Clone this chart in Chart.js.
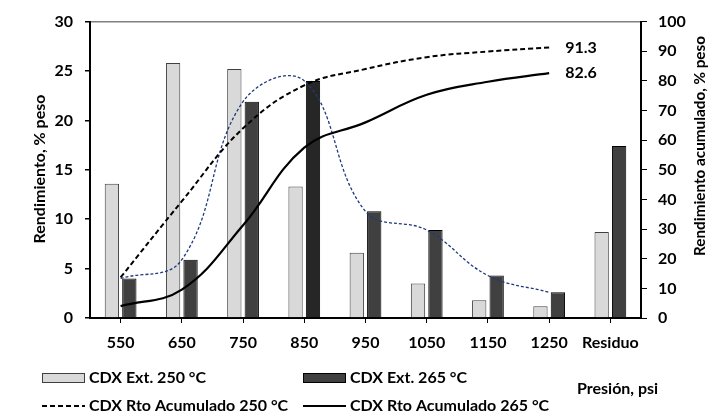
<!DOCTYPE html>
<html>
<head>
<meta charset="utf-8">
<script src="https://cdn.jsdelivr.net/npm/chart.js@4/dist/chart.umd.min.js"></script>
<style>
  html, body { margin:0; padding:0; background:#fff; }
  #wrap { position:relative; width:711px; height:414px; }
</style>
</head>
<body>
<div id="wrap"><canvas id="c" width="711" height="414"></canvas></div>
<script>
const categories = ['550','650','750','850','950','1050','1150','1250','Residuo'];
const ext250 = [13.6, 25.8, 25.2, 13.3, 6.6, 3.5, 1.8, 1.2, 8.7];
const ext265 = [4.0, 5.9, 21.9, 24.0, 10.8, 8.9, 4.3, 2.6, 17.4];
const acum250 = [13.7, 39.4, 64.0, 78.5, 84.0, 88.0, 89.9, 91.3, null];
const acum265 = [4.0, 9.6, 31.3, 57.5, 66.0, 75.3, 79.7, 82.6, null];
const perfil265 = [4.0, 5.9, 21.9, 24.0, 10.8, 8.9, 4.3, 2.6, null];
const leftTicks = [0, 5, 10, 15, 20, 25, 30];
const rightTicks = [0, 10, 20, 30, 40, 50, 60, 70, 80, 90, 100];
const labels = {
  ext250: 'CDX Ext. 250 °C',
  ext265: 'CDX Ext. 265 °C',
  acum250: 'CDX Rto Acumulado 250 °C',
  acum265: 'CDX Rto Acumulado 265 °C',
  yLeft: 'Rendimiento, % peso',
  yRight: 'Rendimiento acumulado, % peso',
  x: 'Presión, psi'
};

const FONT = 'Lato, "Liberation Sans", sans-serif';
const FS = 16;

const darkColors = categories.map((c, i) => i === 3 ? '#262626' : '#404040');

function fittedFont(ctx, text, target) {
  ctx.font = 'bold ' + FS + 'px ' + FONT;
  const w = ctx.measureText(text).width;
  const size = Math.min(FS, FS * target / w);
  return 'bold ' + size.toFixed(2) + 'px ' + FONT;
}

const extrasPlugin = {
  id: 'extras',
  afterDraw(chart) {
    const ctx = chart.ctx;
    const ds = chart.data.datasets;
    ctx.save();
    ctx.font = 'bold ' + FS + 'px ' + FONT;
    ctx.fillStyle = '#000';
    ctx.textBaseline = 'middle';

    // end labels for cumulative lines
    [2, 3].forEach(di => {
      const meta = chart.getDatasetMeta(di);
      const data = ds[di].data;
      let last = data.length - 1;
      while (last >= 0 && data[last] == null) last--;
      const pt = meta.data[last];
      ctx.textAlign = 'left';
      ctx.fillText(data[last].toFixed(1), pt.x + 16, pt.y);
    });

    // legend
    const items = [
      {i: 0, x: 42, y: 378}, {i: 1, x: 303, y: 378},
      {i: 2, x: 42, y: 406}, {i: 3, x: 303, y: 406}
    ];
    items.forEach(it => {
      const d = ds[it.i];
      if (d.type === 'line') {
        ctx.save();
        ctx.strokeStyle = d.borderColor;
        ctx.lineWidth = d.borderWidth;
        ctx.setLineDash(d.borderDash || []);
        ctx.beginPath();
        ctx.moveTo(it.x, it.y);
        ctx.lineTo(it.x + 43, it.y);
        ctx.stroke();
        ctx.restore();
      } else {
        const bg = Array.isArray(d.backgroundColor) ? d.backgroundColor[0] : d.backgroundColor;
        ctx.fillStyle = bg;
        ctx.fillRect(it.x, it.y - 5, 43, 10);
        ctx.strokeStyle = d.borderColor;
        ctx.lineWidth = 1;
        ctx.strokeRect(it.x + 0.5, it.y - 4.5, 42, 9);
      }
      ctx.fillStyle = '#000';
      ctx.textAlign = 'left';
      ctx.fillText(d.label, it.x + 47, it.y);
    });

    // x title
    ctx.fillText(labels.x, 577, 389);

    // y titles
    ctx.textAlign = 'center';
    ctx.save();
    ctx.font = fittedFont(ctx, labels.yLeft, 158);
    ctx.translate(40, 169);
    ctx.rotate(-Math.PI / 2);
    ctx.fillText(labels.yLeft, 0, 0);
    ctx.restore();
    ctx.save();
    ctx.font = fittedFont(ctx, labels.yRight, 220);
    ctx.translate(700, 146);
    ctx.rotate(-Math.PI / 2);
    ctx.fillText(labels.yRight, 0, 0);
    ctx.restore();

    ctx.restore();
  }
};

new Chart(document.getElementById('c'), {
  type: 'bar',
  data: {
    labels: categories,
    datasets: [
      { type: 'bar', label: labels.ext250, data: ext250, yAxisID: 'y',
        backgroundColor: '#d9d9d9', borderColor: '#404040', borderWidth: 1,
        categoryPercentage: 0.57, barPercentage: 0.82, order: 2 },
      { type: 'bar', label: labels.ext265, data: ext265, yAxisID: 'y',
        backgroundColor: darkColors, borderColor: '#000000', borderWidth: 1,
        categoryPercentage: 0.57, barPercentage: 0.82, order: 2 },
      { type: 'line', label: labels.acum250, data: acum250, yAxisID: 'y1',
        borderColor: '#000', borderWidth: 2, borderDash: [5, 3], pointRadius: 0,
        tension: 0.4, fill: false, order: 0 },
      { type: 'line', label: labels.acum265, data: acum265, yAxisID: 'y1',
        borderColor: '#000', borderWidth: 2.2, pointRadius: 0,
        tension: 0.4, fill: false, order: 0 },
      { type: 'line', label: 'perfil 265', data: perfil265, yAxisID: 'y',
        borderColor: '#1f3a7a', borderWidth: 1.3, borderDash: [3, 2], pointRadius: 0,
        tension: 0.4, fill: false, order: 1 }
    ]
  },
  options: {
    responsive: false,
    animation: false,
    devicePixelRatio: 1,
    layout: { padding: { top: 19, left: 0, right: 0, bottom: 0 } },
    plugins: { legend: { display: false }, tooltip: { enabled: false } },
    scales: {
      x: {
        offset: true,
        grid: { offset: false, drawOnChartArea: false, tickLength: 5, color: '#000', lineWidth: 1 },
        border: { color: '#000', width: 2 },
        ticks: { color: '#000', font: { family: FONT, size: FS, weight: 'bold' }, padding: 10, maxRotation: 0 },
        afterFit(s) { s.height = 96; }
      },
      y: {
        position: 'left', min: 0, max: 30,
        afterBuildTicks(s) { s.ticks = leftTicks.map(v => ({ value: v })); },
        grid: {
          drawOnChartArea: true, tickLength: 5, tickColor: '#000',
          color: c => (c.tick && c.tick.value === 30) ? '#808080' : 'rgba(0,0,0,0)',
          lineWidth: 1.5
        },
        border: { color: '#000', width: 2 },
        ticks: { color: '#000', font: { family: FONT, size: FS, weight: 'bold' }, padding: 12 },
        afterFit(s) { s.width = 90; }
      },
      y1: {
        position: 'right', min: 0, max: 100,
        afterBuildTicks(s) { s.ticks = rightTicks.map(v => ({ value: v })); },
        grid: { drawOnChartArea: false, tickLength: 6, color: '#000', tickColor: '#000' },
        border: { color: '#000', width: 2 },
        ticks: { color: '#000', font: { family: FONT, size: FS, weight: 'bold' }, padding: 11 },
        afterFit(s) { s.width = 70; }
      }
    }
  },
  plugins: [extrasPlugin]
});
</script>
</body>
</html>
